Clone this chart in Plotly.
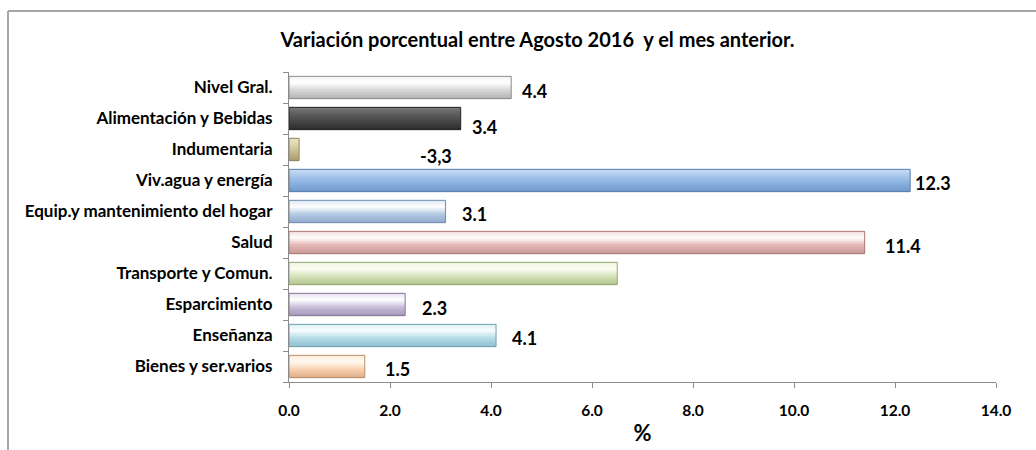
import plotly.graph_objects as go

# ---------------- data ----------------
categories = ["Nivel Gral.", "Alimentación y Bebidas", "Indumentaria", "Viv.agua y energía",
              "Equip.y mantenimiento del hogar", "Salud", "Transporte y Comun.",
              "Esparcimiento", "Enseñanza", "Bienes y ser.varios"]
values = [4.4, 3.4, 0.2, 12.3, 3.1, 11.4, 6.5, 2.3, 4.1, 1.5]
value_labels = ["4.4", "3.4", "-3,3", "12.3", "3.1", "11.4", "", "2.3", "4.1", "1.5"]
x_ticks = [0, 2, 4, 6, 8, 10, 12, 14]
x_tick_labels = ["0.0", "2.0", "4.0", "6.0", "8.0", "10.0", "12.0", "14.0"]
title_text = "Variación porcentual entre Agosto 2016  y el mes anterior."
x_title = "%"

# ---------------- styles ----------------
# gradient stops (top, highlight, main, bottom) and edge colour per bar
palette = [
    ("#f4f4f4", "#ffffff", "#d9d9d9", "#b3b3b3", "#8c8c8c"),
    ("#7a7a7a", "#5e5e5e", "#484848", "#2c2c2c", "#262626"),
    ("#ece5c4", "#ddd4a8", "#c7bc8e", "#a89c6c", "#8f8560"),
    ("#c9def6", "#a8c7ec", "#8db3e2", "#6f97c8", "#5a7fb0"),
    ("#dfe9f5", "#ffffff", "#b8cce4", "#8eaacb", "#6f8db3"),
    ("#f2dcdb", "#ffffff", "#e6b9b8", "#c99896", "#a87876"),
    ("#eef4e2", "#fcfef2", "#d7e4bd", "#b3c48e", "#94a872"),
    ("#e8e2ef", "#ffffff", "#ccc0da", "#a596b8", "#857699"),
    ("#dcf0f5", "#f7fdff", "#b7dee8", "#8fc0cf", "#6fa0b0"),
    ("#fde9d9", "#fffaf2", "#fcd5b5", "#dcae88", "#b98e6a"),
]
stop_pos = [0.0, 0.3, 0.6, 1.0]
label_dx = [9, 9, 119, 3, 14, 18, 0, 15, 14, 18]   # pixel gap from bar end
label_dy = [-3, -8, -6, -2, -2, -3, 0, -3, -2, -2]  # pixel shift (negative = down)

FONT = "Lato"
BAR_W = 0.72
N_STRIPS = 14
L, R, T, B = 289, 40, 72, 68
W_PX, H_PX = 1036, 450


def hex2rgb(h):
    h = h.lstrip("#")
    return tuple(int(h[i:i + 2], 16) for i in (0, 2, 4))


def interp(stops, f):
    for k in range(len(stop_pos) - 1):
        a, b = stop_pos[k], stop_pos[k + 1]
        if a <= f <= b:
            t = (f - a) / (b - a)
            c1, c2 = hex2rgb(stops[k]), hex2rgb(stops[k + 1])
            c = [round(c1[j] + (c2[j] - c1[j]) * t) for j in range(3)]
            return "rgb(%d,%d,%d)" % tuple(c)
    return stops[-1]


n = len(categories)
ypos = [n - 1 - i for i in range(n)]

fig = go.Figure()
strip_h = BAR_W / N_STRIPS
for s in range(N_STRIPS):
    f = (s + 0.5) / N_STRIPS  # fraction from top
    cols = [interp(p[:4], f) for p in palette]
    off = BAR_W / 2 - (s + 1) * strip_h
    fig.add_trace(go.Bar(
        x=values, y=ypos, orientation="h", width=strip_h * 1.02, offset=off,
        marker=dict(color=cols, line=dict(width=0)),
        hoverinfo="skip", showlegend=False))

# outline
fig.add_trace(go.Bar(
    x=values, y=ypos, orientation="h", width=BAR_W, offset=-BAR_W / 2,
    marker=dict(color="rgba(0,0,0,0)", line=dict(color=[p[4] for p in palette], width=1)),
    customdata=categories, hovertemplate="%{customdata}: %{x}<extra></extra>",
    showlegend=False))

# value labels
for i in range(n):
    if value_labels[i]:
        fig.add_annotation(x=values[i], y=ypos[i], xref="x", yref="y",
                           text="<b>%s</b>" % value_labels[i], showarrow=False,
                           xanchor="left", yanchor="middle",
                           xshift=label_dx[i], yshift=label_dy[i],
                           font=dict(family=FONT, size=18, color="#000000"))

plot_w = W_PX - L - R
plot_h = H_PX - T - B
px2x = lambda px: (px - L) / plot_w
py2y = lambda py: (H_PX - B - py) / plot_h

# outer frame (top and left edges)
frame = dict(color="#a6a6a6", width=2)
fig.add_shape(type="line", xref="paper", yref="paper",
              x0=px2x(8), x1=px2x(1040), y0=py2y(11), y1=py2y(11), line=frame)
fig.add_shape(type="line", xref="paper", yref="paper",
              x0=px2x(8), x1=px2x(8), y0=py2y(11), y1=py2y(455), line=frame)

fig.update_layout(
    width=W_PX, height=H_PX,
    barmode="overlay",
    paper_bgcolor="white", plot_bgcolor="white",
    margin=dict(l=L, r=R, t=T, b=B, autoexpand=False),
    title=dict(text="<b>%s</b>" % title_text, x=537.5 / W_PX, xanchor="center",
               y=1 - 40 / H_PX, yanchor="middle", xref="container", yref="container",
               font=dict(family=FONT, size=20, color="#000000")),
    font=dict(family=FONT, color="#000000"),
    xaxis=dict(range=[0, 14], tickvals=x_ticks, ticktext=["<b>%s</b>" % t for t in x_tick_labels],
               ticks="outside", ticklen=5, tickcolor="#8c8c8c", tickwidth=1,
               showline=True, linecolor="#8c8c8c", linewidth=1, showgrid=False, zeroline=False,
               tickfont=dict(family=FONT, size=15.5, color="#000000"), ticklabelstandoff=9,
               title=dict(text="<b>%s</b>" % x_title, font=dict(family=FONT, size=22, color="#000000"),
                          standoff=8)),
    yaxis=dict(range=[-0.5, n - 0.5], tickvals=ypos, ticktext=["<b>%s</b>" % c for c in categories],
               ticks="", showline=True, linecolor="#8c8c8c", linewidth=1, showgrid=False, zeroline=False,
               tickfont=dict(family=FONT, size=17, color="#000000"), ticklabelstandoff=12,
               minor=dict(tickvals=[k - 0.5 for k in range(n + 1)], ticks="outside",
                          ticklen=5, tickcolor="#8c8c8c", tickwidth=1, showgrid=False)),
)

fig.write_html("out.html", config={"displayModeBar": False},
               post_script="document.body.style.margin='0px';")
